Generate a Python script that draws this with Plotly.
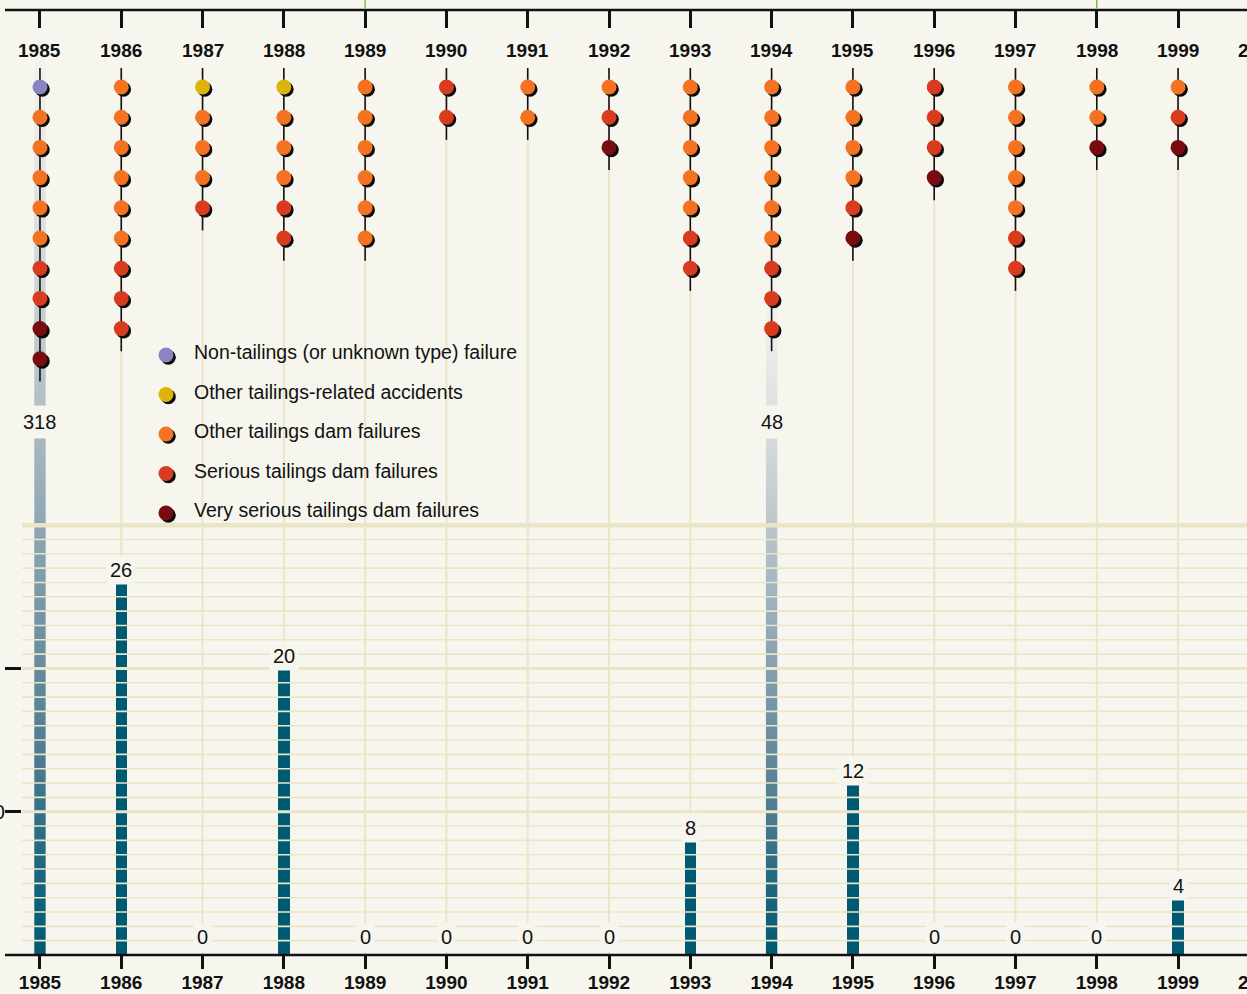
import plotly.graph_objects as go

# ---------------- data ----------------
years = [1985, 1986, 1987, 1988, 1989, 1990, 1991, 1992, 1993, 1994, 1995, 1996, 1997, 1998, 1999]
year_labels = [str(y) for y in years]
extra_tick_year = 2000

bar_values = [318, 26, 0, 20, 0, 0, 0, 0, 8, 48, 12, 0, 0, 0, 4]

category_names = [
    "Non-tailings (or unknown type) failure",
    "Other tailings-related accidents",
    "Other tailings dam failures",
    "Serious tailings dam failures",
    "Very serious tailings dam failures",
]
category_colors = ["#8a84c2", "#dcb40a", "#f47322", "#d93b1f", "#780c10"]

non_tailings    = [1, 0, 0, 0, 0, 0, 0, 0, 0, 0, 0, 0, 0, 0, 0]
other_accidents = [0, 0, 1, 1, 0, 0, 0, 0, 0, 0, 0, 0, 0, 0, 0]
other_failures  = [5, 6, 3, 3, 6, 0, 2, 1, 5, 6, 4, 0, 5, 2, 1]
serious         = [2, 3, 1, 2, 0, 2, 0, 1, 2, 3, 1, 3, 2, 0, 1]
very_serious    = [2, 0, 0, 0, 0, 0, 0, 1, 0, 0, 1, 1, 0, 1, 1]
category_counts = [non_tailings, other_accidents, other_failures, serious, very_serious]

y_ticks = [10, 20]
y_tick_text = ["10", ""]
CAP = 30            # bars above this value are drawn as faded "broken" bars
GRID_MAX = 30

# ---------------- layout constants ----------------
W, H = 1247, 994
ML, MR, MT, MB = 22, 0, 10, 39
X_RANGE = [1984.779, 1999.848]
Y_RANGE = [0, 65.95]
ROW_RANGE = [28.74, -2.55]
BG = "#f7f6ee"
GRID = "#ebe5c7"
BAR = "#005a72"
FONT = "Liberation Sans, Arial, sans-serif"
TXT = "#111111"
BAR_W = 0.14
DOT = 15
STEM_TOP = -0.63
STEM_TAIL = 0.75
CAP_LABEL_Y = 37.2

plot_w = W - ML - MR
plot_h = H - MT - MB
px_year = plot_w / (X_RANGE[1] - X_RANGE[0])
px_row = plot_h / (ROW_RANGE[0] - ROW_RANGE[1])
SDX = 2.3 / px_year
SDY = 2.3 / px_row

GRAD = [
    [0.0, "#005a72"], [0.1, "#1e6880"], [0.2, "#4a7a90"], [0.3, "#648b9d"],
    [0.4, "#809dac"], [0.5, "#9aafbb"], [0.6, "#b5c2c9"], [0.78, "#dcdfdf"],
    [0.9, "#eeeeeb"], [1.0, BG],
]

fig = go.Figure()

# regular bars
bx = [y for y, v in zip(years, bar_values) if v <= CAP]
bv = [v for v in bar_values if v <= CAP]
fig.add_trace(go.Bar(x=bx, y=bv, width=BAR_W, marker=dict(color=BAR, line=dict(width=0)),
                     hoverinfo="skip", showlegend=False))

# broken (over-cap) bars with fading gradient
for y, v in zip(years, bar_values):
    if v > CAP:
        top = min(v, Y_RANGE[1])
        x0, x1 = y - BAR_W / 2, y + BAR_W / 2
        fig.add_trace(go.Scatter(
            x=[x0, x1, x1, x0, x0], y=[0, 0, top, top, 0], mode="lines",
            fill="toself", line=dict(width=0),
            fillgradient=dict(type="vertical", colorscale=GRAD, start=0, stop=top),
            hoverinfo="skip", showlegend=False))

# stems
sx, sy = [], []
for i, y in enumerate(years):
    n = sum(c[i] for c in category_counts)
    sx += [y, y, None]
    sy += [STEM_TOP, n - 1 + STEM_TAIL, None]
fig.add_trace(go.Scatter(x=sx, y=sy, yaxis="y2", mode="lines",
                         line=dict(color=TXT, width=1.6),
                         hoverinfo="skip", showlegend=False))

# dots
dot_x = [[] for _ in category_names]
dot_y = [[] for _ in category_names]
for i, y in enumerate(years):
    row = 0
    for k, c in enumerate(category_counts):
        for _ in range(c[i]):
            dot_x[k].append(y)
            dot_y[k].append(row)
            row += 1
allx = [x for xs in dot_x for x in xs]
ally = [v for ys in dot_y for v in ys]
fig.add_trace(go.Scatter(x=[x + SDX for x in allx], y=[v + SDY for v in ally], yaxis="y2",
                         mode="markers", marker=dict(size=DOT, color="#0a0a0a", line=dict(width=0)),
                         hoverinfo="skip", showlegend=False))
for k, name in enumerate(category_names):
    fig.add_trace(go.Scatter(x=dot_x[k], y=dot_y[k], yaxis="y2", mode="markers", name=name,
                             marker=dict(size=DOT, color=category_colors[k], line=dict(width=0)),
                             showlegend=False))

# manual legend (pixel coordinate overlay axes)
LEG_DOT_X = 166
LEG_TEXT_X = 192
LEG_Y0 = 355
LEG_STEP = 39.5
leg_y = [LEG_Y0 + k * LEG_STEP for k in range(len(category_names))]
fig.add_trace(go.Scatter(x=[LEG_DOT_X + 2.3] * len(leg_y), y=[v + 2.3 for v in leg_y],
                         xaxis="x3", yaxis="y3", mode="markers",
                         marker=dict(size=DOT, color="#0a0a0a"), hoverinfo="skip", showlegend=False))
fig.add_trace(go.Scatter(x=[LEG_DOT_X] * len(leg_y), y=leg_y, xaxis="x3", yaxis="y3", mode="markers",
                         marker=dict(size=DOT, color=category_colors), hoverinfo="skip", showlegend=False))

annotations = []
for k, name in enumerate(category_names):
    annotations.append(dict(x=LEG_TEXT_X, y=leg_y[k] - 3, xref="x3", yref="y3", text=name,
                            showarrow=False, xanchor="left", yanchor="middle",
                            font=dict(family=FONT, size=19.5, color=TXT)))

# value labels
for y, v in zip(years, bar_values):
    if v > CAP:
        annotations.append(dict(x=y, y=CAP_LABEL_Y, xref="x", yref="y", text=str(v), showarrow=False,
                                yanchor="middle", xanchor="center", bgcolor=BG, borderpad=5,
                                font=dict(family=FONT, size=20, color=TXT)))
    else:
        annotations.append(dict(x=y, y=v, xref="x", yref="y", text=str(v), showarrow=False,
                                yanchor="bottom", xanchor="center", yshift=-3 if v > 0 else 3,
                                bgcolor=BG, borderpad=3,
                                font=dict(family=FONT, size=20, color=TXT)))

# top axis labels
for y, lab in zip(years, year_labels):
    annotations.append(dict(x=y, y=1, xref="x", yref="paper", yshift=-40, text=lab, showarrow=False,
                            xanchor="center", yanchor="middle",
                            font=dict(family=FONT, size=19, color=TXT, weight="bold")))
x_extra = (extra_tick_year - X_RANGE[0]) / (X_RANGE[1] - X_RANGE[0])
annotations.append(dict(x=x_extra, y=1, xref="paper", yref="paper", yshift=-40, text=str(extra_tick_year),
                        showarrow=False, xanchor="center", yanchor="middle",
                        font=dict(family=FONT, size=19, color=TXT, weight="bold")))
annotations.append(dict(x=x_extra, y=0, xref="paper", yref="paper", yshift=-27, text=str(extra_tick_year),
                        showarrow=False, xanchor="center", yanchor="middle",
                        font=dict(family=FONT, size=19, color=TXT, weight="bold")))

# shapes
shapes = []
for y in years:
    shapes.append(dict(type="line", xref="x", yref="y2", x0=y, x1=y, y0=STEM_TOP, y1=ROW_RANGE[0],
                       line=dict(color=GRID, width=2), layer="below"))
for v in range(1, GRID_MAX + 1):
    w = 4.5 if v == GRID_MAX else (3 if v % 10 == 0 else 1.6)
    shapes.append(dict(type="line", xref="paper", yref="y", x0=0, x1=1, y0=v, y1=v,
                       line=dict(color=GRID, width=w), layer="above"))
left_ext = -17 / plot_w
shapes.append(dict(type="line", xref="paper", yref="paper", x0=left_ext, x1=1, y0=0, y1=0,
                   line=dict(color=TXT, width=2.5)))
shapes.append(dict(type="line", xref="paper", yref="paper", x0=left_ext, x1=1, y0=1, y1=1,
                   line=dict(color=TXT, width=2.5)))
for y in (1989, 1998):
    shapes.append(dict(type="line", xref="x", yref="paper", x0=y, x1=y, y0=1 + 1.5 / plot_h, y1=1 + 10 / plot_h,
                       line=dict(color="#7cb95b", width=1.5)))

# dummy trace for top axis
fig.add_trace(go.Scatter(x=[years[0]], y=[0], xaxis="x2", mode="markers",
                         marker=dict(size=1, opacity=0), hoverinfo="skip", showlegend=False))

fig.update_layout(
    width=W, height=H,
    margin=dict(l=ML, r=MR, t=MT, b=MB, autoexpand=False),
    paper_bgcolor=BG, plot_bgcolor=BG,
    showlegend=False,
    bargap=0,
    xaxis=dict(range=X_RANGE, tickvals=years, ticktext=year_labels, ticks="outside", ticklen=13,
               tickwidth=3, tickcolor=TXT, showgrid=False, zeroline=False, showline=False,
               automargin=False, ticklabelstandoff=-3,
               tickfont=dict(family=FONT, size=19, color=TXT, weight="bold")),
    xaxis2=dict(overlaying="x", matches="x", side="top", anchor="y", tickvals=years, ticks="inside",
                ticklen=18, tickwidth=3, tickcolor=TXT, showticklabels=False, automargin=False,
                showgrid=False, zeroline=False, showline=False),
    yaxis=dict(range=Y_RANGE, tickvals=y_ticks, ticktext=y_tick_text, ticks="outside", ticklen=16,
               tickwidth=3, tickcolor=TXT, showgrid=False, zeroline=False, showline=False,
               automargin=False, ticklabelstandoff=-4,
               tickfont=dict(family=FONT, size=20, color=TXT)),
    yaxis2=dict(overlaying="y", range=ROW_RANGE, visible=False, automargin=False),
    xaxis3=dict(overlaying="x", range=[ML, W - MR], visible=False, automargin=False),
    yaxis3=dict(overlaying="y", range=[H - MB, MT], visible=False, automargin=False),
    annotations=annotations,
    shapes=shapes,
)

fig.write_html(
    "out.html",
    config={"displayModeBar": False},
    post_script="document.body.style.margin='0';document.body.style.padding='0';"
                "document.body.style.background='" + BG + "';document.body.style.overflow='hidden';",
)
